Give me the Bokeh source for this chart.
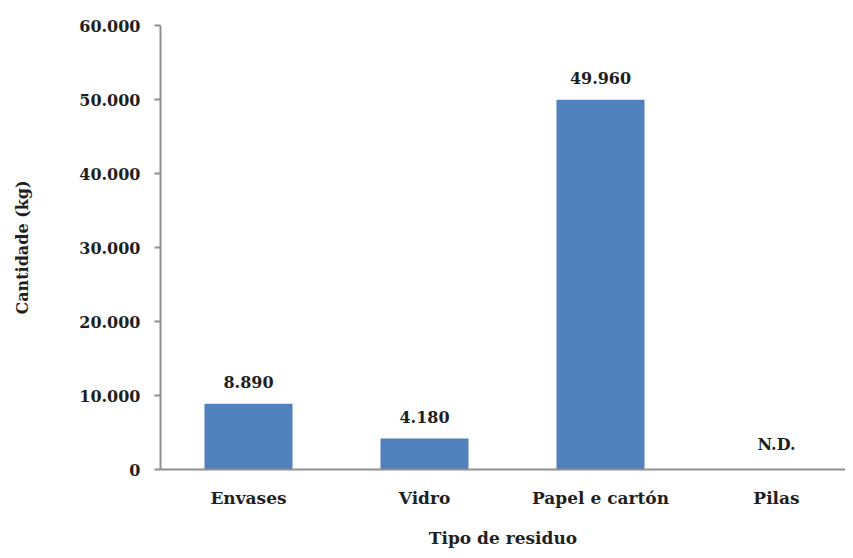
from bokeh.plotting import figure
from bokeh.models import ColumnDataSource, FixedTicker, Range1d
from bokeh.embed import file_html
from bokeh.resources import INLINE
from bokeh.core.properties import value

categories = ["Envases", "Vidro", "Papel e cartón", "Pilas"]
amounts = [8890, 4180, 49960, 0]
amount_labels = ["8.890", "4.180", "49.960", "N.D."]
y_ticks = [0, 10000, 20000, 30000, 40000, 50000, 60000]
y_tick_labels = ["0", "10.000", "20.000", "30.000", "40.000", "50.000", "60.000"]

FONT = "DejaVu Serif"
TXT = "#1f1f1f"
AXC = "#8f8f8f"

xs = [i + 0.5 for i in range(len(categories))]
src = ColumnDataSource(dict(x=xs, top=amounts, lab=amount_labels))

p = figure(width=845, height=550, output_backend="svg", toolbar_location=None,
           x_range=Range1d(0, 3.892), y_range=Range1d(0, 60000),
           min_border_left=160, min_border_right=0, min_border_top=25,
           min_border_bottom=81)
p.outline_line_color = None
p.grid.visible = False
p.background_fill_color = "white"
p.border_fill_color = "white"

p.vbar(x="x", top="top", width=0.5, source=src, fill_color="#4F81BD", line_color=None)
p.text(x="x", y="top", text="lab", source=src, text_align="center",
       text_baseline="bottom", y_offset=-16, text_font=value(FONT),
       text_font_size="16px", text_font_style="bold", text_color=TXT)

# y axis
ya = p.yaxis[0]
ya.ticker = FixedTicker(ticks=y_ticks)
ya.major_label_overrides = {t: l for t, l in zip(y_ticks, y_tick_labels)}
ya.minor_tick_line_color = None
ya.major_tick_in = 0
ya.major_tick_out = 6
ya.axis_line_color = AXC
ya.axis_line_width = 2
ya.major_tick_line_color = AXC
ya.major_tick_line_width = 2
ya.major_label_text_font = FONT
ya.major_label_text_font_size = "16px"
ya.major_label_text_font_style = "bold"
ya.major_label_text_color = TXT
ya.major_label_standoff = 14
ya.axis_label = "Cantidade (kg)"
ya.axis_label_text_font = FONT
ya.axis_label_text_font_size = "16px"
ya.axis_label_text_font_style = "bold"
ya.axis_label_text_color = TXT
ya.axis_label_standoff = 44

# x axis
xa = p.xaxis[0]
xa.ticker = FixedTicker(ticks=xs)
xa.major_label_overrides = {x: c for x, c in zip(xs, categories)}
xa.minor_tick_line_color = None
xa.major_tick_line_color = None
xa.axis_line_color = AXC
xa.axis_line_width = 2
xa.major_label_text_font = FONT
xa.major_label_text_font_size = "17px"
xa.major_label_text_font_style = "bold"
xa.major_label_text_color = TXT
xa.major_label_standoff = 12
xa.axis_label = "Tipo de residuo"
xa.axis_label_text_font = FONT
xa.axis_label_text_font_size = "17px"
xa.axis_label_text_font_style = "bold"
xa.axis_label_text_color = TXT
xa.axis_label_standoff = 17

open("out.html", "w").write(file_html(p, INLINE))
